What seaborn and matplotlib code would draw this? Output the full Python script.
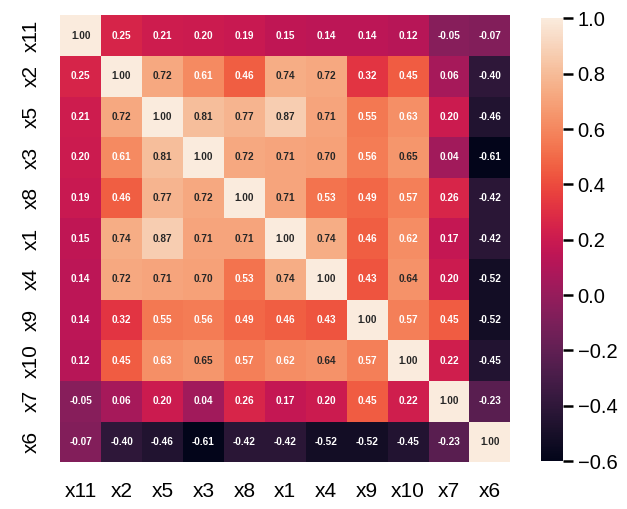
import matplotlib
matplotlib.use("Agg")
import matplotlib.pyplot as plt
import numpy as np
import pandas as pd
import seaborn as sns

plt.rcParams['font.family'] = ['Liberation Sans', 'DejaVu Sans']

labels = ["x11", "x2", "x5", "x3", "x8", "x1", "x4", "x9", "x10", "x7", "x6"]

r_x11 = [1.00, 0.25, 0.21, 0.20, 0.19, 0.15, 0.14, 0.14, 0.12, -0.05, -0.07]
r_x2 = [0.25, 1.00, 0.72, 0.61, 0.46, 0.74, 0.72, 0.32, 0.45, 0.06, -0.40]
r_x5 = [0.21, 0.72, 1.00, 0.81, 0.77, 0.87, 0.71, 0.55, 0.63, 0.20, -0.46]
r_x3 = [0.20, 0.61, 0.81, 1.00, 0.72, 0.71, 0.70, 0.56, 0.65, 0.04, -0.61]
r_x8 = [0.19, 0.46, 0.77, 0.72, 1.00, 0.71, 0.53, 0.49, 0.57, 0.26, -0.42]
r_x1 = [0.15, 0.74, 0.87, 0.71, 0.71, 1.00, 0.74, 0.46, 0.62, 0.17, -0.42]
r_x4 = [0.14, 0.72, 0.71, 0.70, 0.53, 0.74, 1.00, 0.43, 0.64, 0.20, -0.52]
r_x9 = [0.14, 0.32, 0.55, 0.56, 0.49, 0.46, 0.43, 1.00, 0.57, 0.45, -0.52]
r_x10 = [0.12, 0.45, 0.63, 0.65, 0.57, 0.62, 0.64, 0.57, 1.00, 0.22, -0.45]
r_x7 = [-0.05, 0.06, 0.20, 0.04, 0.26, 0.17, 0.20, 0.45, 0.22, 1.00, -0.23]
r_x6 = [-0.07, -0.40, -0.46, -0.61, -0.42, -0.42, -0.52, -0.52, -0.45, -0.23, 1.00]

corr = pd.DataFrame([r_x11, r_x2, r_x5, r_x3, r_x8, r_x1, r_x4, r_x9, r_x10, r_x7, r_x6],
                    index=labels, columns=labels)

fig = plt.figure(figsize=(6.27, 5.09), dpi=100)
ax = fig.add_axes([0.096, 0.092, 0.718, 0.878])
cax = fig.add_axes([0.863, 0.094, 0.035, 0.870])

sns.heatmap(corr, ax=ax, cbar_ax=cax, cmap="rocket", vmin=-0.6, vmax=1.0,
            annot=True, fmt=".2f",
            annot_kws={"fontsize": 7.2, "fontweight": "bold"})

ax.tick_params(length=0, labelsize=15, pad=14)
ax.set_xticklabels(labels, rotation=0)
ax.set_yticklabels(labels, rotation=90, va="center")
cax.tick_params(labelsize=14.5, length=7, width=1.8)
cax.set_yticks([-0.6, -0.4, -0.2, 0.0, 0.2, 0.4, 0.6, 0.8, 1.0])

fig.savefig("out.png", dpi=100)
